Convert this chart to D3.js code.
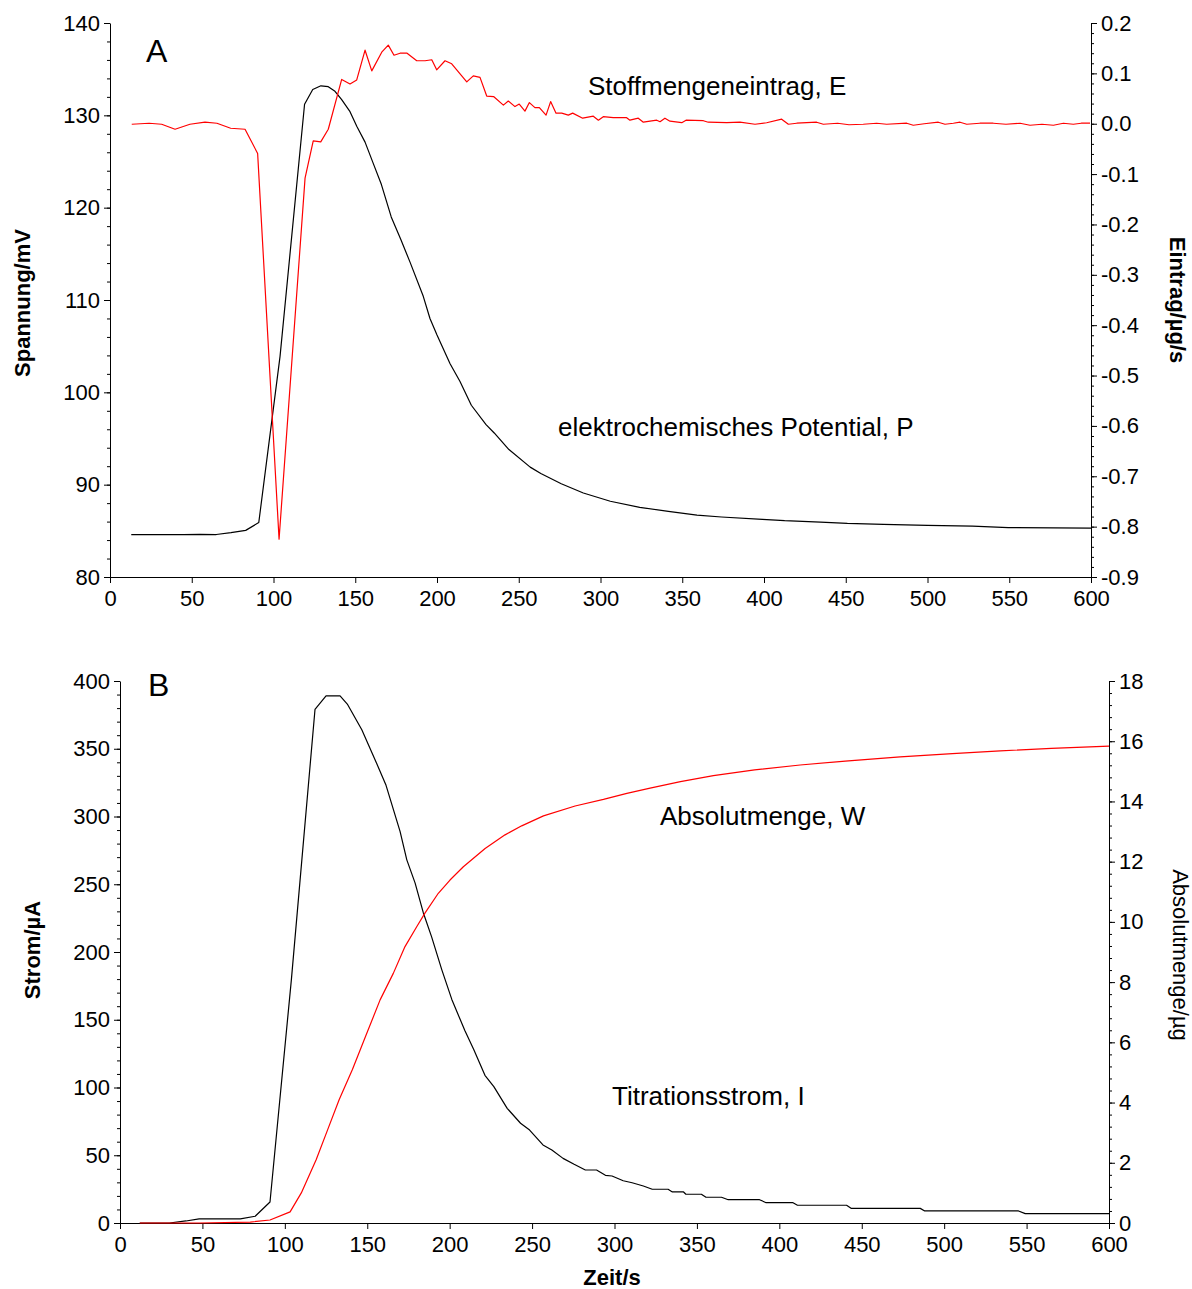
<!DOCTYPE html>
<html>
<head>
<meta charset="utf-8">
<script src="https://cdn.jsdelivr.net/npm/d3@7"></script>
<style>
  body { margin: 0; background: #fff; }
  text { font-family: "Liberation Sans", Arial, sans-serif; }
</style>
</head>
<body>
<svg id="chart" width="1192" height="1289"></svg>
<script>
// ---- Panel A: electrochemical potential P [s, mV] ----
const potential = [
  [13, 84.6], [25, 84.6], [35, 84.6], [45, 84.6], [55, 84.62], [65, 84.6], [74, 84.8],
  [83, 85.05], [91, 85.9], [104, 103.9], [119, 131.2], [124, 132.8], [129, 133.2],
  [133.5, 133.1], [137.6, 132.6], [141.7, 131.7], [146.8, 130.4], [151, 128.8], [156, 127.1],
  [161, 124.8], [166, 122.5], [172, 119.0], [178, 116.5], [183.5, 114.1], [191.6, 110.4],
  [195.7, 108.0], [200, 106.2], [208, 103.1], [214, 101.2], [221, 98.6], [230, 96.5],
  [235, 95.6], [244, 93.8], [257, 91.9], [263.5, 91.2], [276, 90.1], [289.5, 89.1],
  [306, 88.2], [324, 87.55], [341.5, 87.1], [359, 86.7], [374, 86.5], [399, 86.25],
  [412.6, 86.1], [434.5, 85.95], [451, 85.8], [473, 85.7], [500, 85.6], [527.5, 85.5],
  [549.4, 85.35], [600, 85.3]
];

// ---- Panel A: substance input E [s, µg/s] ----
const eintrag = [
  [13.3, -0.001], [23.9, 0.001], [31.6, -0.001], [39.8, -0.011], [48.9, -0.001], [58.1, 0.003],
  [65.4, 0.001], [73.8, -0.009], [82.6, -0.011], [90.3, -0.059], [103.4, -0.825], [119.3, -0.108],
  [124.3, -0.034], [128.9, -0.036], [133.5, -0.011], [141.7, 0.088], [146.8, 0.079], [150.9, 0.087],
  [156, 0.146], [160.1, 0.105], [166.2, 0.142], [170.2, 0.156], [173.7, 0.136], [177.4, 0.140],
  [181.7, 0.140], [187.6, 0.125], [192.7, 0.125], [196.8, 0.127], [199.8, 0.107], [204.9, 0.125],
  [209, 0.119], [218.2, 0.083], [222.2, 0.095], [226.3, 0.092], [230.4, 0.055], [234.6, 0.054],
  [240.6, 0.037], [243.6, 0.045], [247.7, 0.034], [250.3, 0.039], [253.8, 0.025], [256.5, 0.042],
  [259.9, 0.032], [262.6, 0.032], [266.7, 0.017], [269.5, 0.044], [272.8, 0.021], [276.3, 0.021],
  [280.3, 0.017], [283, 0.021], [289.1, 0.011], [295.6, 0.015], [298.7, 0.007], [301.7, 0.014],
  [307.8, 0.012], [316, 0.012], [318, 0.007], [323.1, 0.011], [326.2, 0.003], [334.4, 0.007],
  [336.4, 0.004], [339.4, 0.011], [342.5, 0.005], [349.7, 0.002], [352.3, 0.007], [362.9, 0.006],
  [365.9, 0.003], [377.2, 0.002], [385.3, 0.003], [394.5, -0.001], [401.6, 0.002], [410.8, 0.009],
  [414.9, -0.001], [420, 0.001], [432.2, 0.003], [436.3, -0.001], [445, 0.001], [452, -0.002],
  [460.7, -0.001], [468.9, 0.001], [475, -0.001], [487.3, 0.001], [491.3, -0.003], [498, 0.000],
  [506.6, 0.003], [510.7, -0.001], [515.8, 0.001], [519.9, 0.003], [524, -0.001], [532, 0.001],
  [540.2, 0.001], [548, -0.001], [556.6, 0.001], [562.7, -0.003], [570, -0.001], [577, -0.003],
  [583.1, 0.001], [589.2, -0.001], [594, 0.001], [599.4, 0.001]
];

// ---- Panel B: titration current I [s, µA] ----
const strom = [
  [12, 0], [30, 0], [40, 1.5], [48, 3], [73, 3], [82, 5], [91, 15.5], [104, 180], [118.3, 379],
  [125, 389], [133.5, 389], [137.9, 383], [146.7, 364], [155.8, 339], [161.4, 323], [169.9, 289],
  [174, 268], [179, 251], [184, 229], [189.1, 211], [195.2, 187], [201.3, 165], [209.2, 142],
  [214.6, 128], [221.4, 109], [226.8, 100.6], [234.9, 84.6], [243, 73.6], [248.5, 68.6],
  [256.6, 57.6], [262, 53.9], [268.8, 47.7], [275.5, 43.3], [282.3, 39.1], [289.1, 39.1],
  [294.5, 35.2], [298.5, 34.7], [305.3, 31.2], [310.7, 29.7], [317.5, 27.3], [322.9, 24.9],
  [332.5, 24.9], [335.1, 22.9], [341.9, 22.9], [343.3, 21.2], [352.7, 21.2], [355.5, 19],
  [364.9, 19], [369, 17.2], [388, 17.2], [392, 15], [408.3, 15], [411, 13.1], [440.8, 13.1],
  [443.5, 10.8], [485.5, 10.8], [488.2, 8.9], [545.1, 8.9], [549.2, 6.9], [600, 6.9]
];

// ---- Panel B: absolute amount W [s, µg] ----
const menge = [
  [12, 0], [48.5, 0], [79, 0.03], [91, 0.1], [103.2, 0.37], [110, 1.0], [119, 2.1], [126, 3.1],
  [133, 4.1], [141, 5.1], [149, 6.2], [157.8, 7.41], [165.8, 8.29], [172.9, 9.18], [180, 9.84],
  [185, 10.29], [193.1, 10.95], [200.2, 11.39], [208.3, 11.83], [221.5, 12.44], [233.6, 12.89],
  [243.7, 13.19], [256.9, 13.52], [276.1, 13.85], [293.3, 14.07], [307.5, 14.27], [321.6, 14.44],
  [340, 14.66], [360, 14.86], [385, 15.05], [412.6, 15.21], [440, 15.34], [473.3, 15.48],
  [505, 15.59], [534, 15.68], [565, 15.76], [600, 15.84]
];

// ---- tick values ----
const timeTicks = [0, 50, 100, 150, 200, 250, 300, 350, 400, 450, 500, 550, 600];
const spannungTicks = [80, 90, 100, 110, 120, 130, 140];
const eintragTicks = [0.2, 0.1, 0.0, -0.1, -0.2, -0.3, -0.4, -0.5, -0.6, -0.7, -0.8, -0.9];
const stromTicks = [0, 50, 100, 150, 200, 250, 300, 350, 400];
const mengeTicks = [0, 2, 4, 6, 8, 10, 12, 14, 16, 18];

const svg = d3.select('#chart');
svg.append('rect').attr('width', 1192).attr('height', 1289).attr('fill', '#fff');

const FONT = '"Liberation Sans", Arial, sans-serif';

function styleAxis(g, size) {
  g.attr('font-family', FONT).attr('font-size', size);
  g.selectAll('.domain').attr('stroke', '#000').attr('stroke-width', 1);
  g.selectAll('.tick line').attr('stroke', '#000').attr('stroke-width', 1);
  g.selectAll('.tick text').attr('fill', '#000');
}

function minorValues(domain, step) {
  const lo = Math.min(domain[0], domain[1]), hi = Math.max(domain[0], domain[1]);
  const out = [];
  const n = Math.round((hi - lo) / step);
  for (let i = 0; i <= n; i++) out.push(lo + i * step);
  return out;
}

function panel(cfg) {
  const x = d3.scaleLinear().domain([0, 600]).range(cfg.xr);
  const yL = d3.scaleLinear().domain(cfg.yLdom).range(cfg.yr);
  const yR = d3.scaleLinear().domain(cfg.yRdom).range(cfg.yr);
  const g = svg.append('g');

  // minor ticks
  g.append('g').attr('transform', `translate(${cfg.xr[0]},0)`)
    .call(d3.axisLeft(yL).tickValues(minorValues(cfg.yLdom, cfg.yLminor)).tickSize(3).tickFormat(''))
    .call(s => s.select('.domain').remove())
    .call(s => styleAxis(s, 22));
  g.append('g').attr('transform', `translate(${cfg.xr[1]},0)`)
    .call(d3.axisRight(yR).tickValues(minorValues(cfg.yRdom, cfg.yRminor)).tickSize(3).tickFormat(''))
    .call(s => s.select('.domain').remove())
    .call(s => styleAxis(s, 22));

  // major axes
  g.append('g').attr('transform', `translate(0,${cfg.yr[0]})`)
    .call(d3.axisBottom(x).tickValues(timeTicks).tickSize(6).tickPadding(7).tickSizeOuter(0).tickFormat(d3.format('d')))
    .call(s => styleAxis(s, 22));
  g.append('g').attr('transform', `translate(${cfg.xr[0]},0)`)
    .call(d3.axisLeft(yL).tickValues(cfg.yLticks).tickSize(6).tickPadding(4).tickSizeOuter(0).tickFormat(cfg.yLfmt))
    .call(s => styleAxis(s, 22));
  g.append('g').attr('transform', `translate(${cfg.xr[1]},0)`)
    .call(d3.axisRight(yR).tickValues(cfg.yRticks).tickSize(6).tickPadding(4).tickSizeOuter(0).tickFormat(cfg.yRfmt))
    .call(s => styleAxis(s, 22));

  // series
  const lineL = d3.line().x(d => x(d[0])).y(d => yL(d[1]));
  const lineR = d3.line().x(d => x(d[0])).y(d => yR(d[1]));
  g.append('path').datum(cfg.left).attr('d', lineL)
    .attr('fill', 'none').attr('stroke', cfg.leftColor).attr('stroke-width', 1.2).attr('stroke-linejoin', 'round');
  g.append('path').datum(cfg.right).attr('d', lineR)
    .attr('fill', 'none').attr('stroke', cfg.rightColor).attr('stroke-width', 1.2).attr('stroke-linejoin', 'round');

  // titles
  g.append('text').attr('transform', `translate(${cfg.leftTitle.x},${cfg.leftTitle.y}) rotate(-90)`)
    .attr('text-anchor', 'middle').attr('dominant-baseline', 'central')
    .attr('font-size', 22).attr('font-weight', 'bold').text(cfg.leftTitle.text);
  g.append('text').attr('transform', `translate(${cfg.rightTitle.x},${cfg.rightTitle.y}) rotate(90)`)
    .attr('text-anchor', 'middle').attr('dominant-baseline', 'central')
    .attr('font-size', 22).attr('font-weight', cfg.rightTitle.bold ? 'bold' : 'normal').text(cfg.rightTitle.text);

  g.append('text').attr('x', cfg.letter.x).attr('y', cfg.letter.y)
    .attr('font-size', 32).text(cfg.letter.text);
  cfg.notes.forEach(n => {
    g.append('text').attr('x', n.x).attr('y', n.y).attr('font-size', 26).text(n.text);
  });
}

panel({
  xr: [110, 1091], yr: [577, 23],
  yLdom: [80, 140], yRdom: [-0.9, 0.2],
  yLticks: spannungTicks, yRticks: eintragTicks,
  yLminor: 2, yRminor: 0.02,
  yLfmt: d3.format('d'), yRfmt: d => d.toFixed(1),
  left: potential, leftColor: '#000',
  right: eintrag, rightColor: '#ff0000',
  leftTitle: { x: 22, y: 303, text: 'Spannung/mV' },
  rightTitle: { x: 1177, y: 300, text: 'Eintrag/µg/s', bold: true },
  letter: { x: 146, y: 62, text: 'A' },
  notes: [
    { x: 588, y: 95, text: 'Stoffmengeneintrag, E' },
    { x: 558, y: 436, text: 'elektrochemisches Potential, P' }
  ]
});

panel({
  xr: [120, 1109], yr: [1223, 681],
  yLdom: [0, 400], yRdom: [0, 18],
  yLticks: stromTicks, yRticks: mengeTicks,
  yLminor: 10, yRminor: 0.4,
  yLfmt: d3.format('d'), yRfmt: d3.format('d'),
  left: strom, leftColor: '#000',
  right: menge, rightColor: '#ff0000',
  leftTitle: { x: 32, y: 950, text: 'Strom/µA' },
  rightTitle: { x: 1180, y: 955, text: 'Absolutmenge/µg', bold: false },
  letter: { x: 148, y: 696, text: 'B' },
  notes: [
    { x: 660, y: 825, text: 'Absolutmenge, W' },
    { x: 612, y: 1105, text: 'Titrationsstrom, I' }
  ]
});

svg.append('text').attr('x', 612).attr('y', 1285).attr('text-anchor', 'middle')
  .attr('font-family', FONT)
  .attr('font-size', 22).attr('font-weight', 'bold').text('Zeit/s');
</script>
</body>
</html>
